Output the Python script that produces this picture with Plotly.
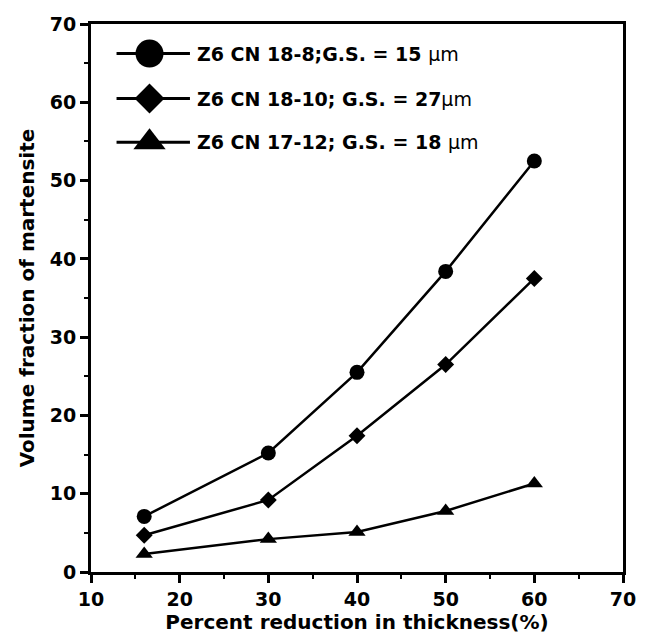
import plotly.graph_objects as go

reduction = [16, 30, 40, 50, 60]
vf_18_8 = [7.1, 15.2, 25.5, 38.4, 52.5]
vf_18_10 = [4.7, 9.2, 17.4, 26.5, 37.5]
vf_17_12 = [2.3, 4.2, 5.1, 7.8, 11.3]

series_names = [
    'Z6 CN 18-8;G.S. = 15 <span style="font-weight:normal">μm</span>',
    'Z6 CN 18-10; G.S. = 27<span style="font-weight:normal">μm</span>',
    'Z6 CN 17-12; G.S. = 18 <span style="font-weight:normal">μm</span>',
]
series_values = [vf_18_8, vf_18_10, vf_17_12]
symbols = ["circle", "diamond", "triangle-up"]
plot_sizes = [15, 13, 15]
legend_sizes = [28, 23, 28]

FONT = "DejaVu Sans, Liberation Sans, Arial, sans-serif"

fig = go.Figure()
for vals, sym, sz in zip(series_values, symbols, plot_sizes):
    fig.add_trace(go.Scatter(
        x=reduction, y=vals, mode="lines+markers",
        line=dict(color="black", width=2.5),
        marker=dict(symbol=sym, size=sz, color="black"),
        showlegend=False, cliponaxis=False,
    ))

# manual legend on an overlay axis (0..1 paper-like)
leg_y = [0.946, 0.864, 0.784]
for name, sym, sz, yy in zip(series_names, symbols, legend_sizes, leg_y):
    fig.add_trace(go.Scatter(
        x=[0.048, 0.093, 0.186], y=[yy, yy, yy], mode="lines",
        line=dict(color="black", width=3), xaxis="x2", yaxis="y2",
        showlegend=False, hoverinfo="skip",
    ))
    fig.add_trace(go.Scatter(
        x=[0.11], y=[yy], mode="markers",
        marker=dict(symbol=sym, size=sz, color="black"), xaxis="x2", yaxis="y2",
        showlegend=False, hoverinfo="skip",
    ))
    fig.add_annotation(
        x=0.195, y=yy, xref="x2", yref="y2", text=name, showarrow=False,
        xanchor="left", yanchor="middle",
        font=dict(family=FONT, size=19, color="black", weight="bold"),
    )

axis_common = dict(
    showline=True, linecolor="black", linewidth=3, mirror=True,
    ticks="outside", ticklen=8, tickwidth=2.5, tickcolor="black",
    showgrid=False, zeroline=False,
    tickfont=dict(family=FONT, size=19, color="black", weight="bold"),
)

fig.update_layout(
    width=651, height=638,
    margin=dict(l=91, r=28, t=24, b=64),
    paper_bgcolor="white", plot_bgcolor="white",
    xaxis=dict(
        range=[10, 70], dtick=10, tick0=10,
        minor=dict(dtick=5, ticks="outside", ticklen=4, tickwidth=2, tickcolor="black"),
        title=dict(text="Percent reduction in thickness(%)", standoff=2,
                   font=dict(family=FONT, size=20, color="black", weight="bold")),
        **axis_common,
    ),
    yaxis=dict(
        range=[0, 70], dtick=10, tick0=0,
        minor=dict(dtick=5, ticks="outside", ticklen=4, tickwidth=2, tickcolor="black"),
        title=dict(text="Volume fraction of martensite", standoff=10,
                   font=dict(family=FONT, size=20, color="black", weight="bold")),
        **axis_common,
    ),
    xaxis2=dict(range=[0, 1], overlaying="x", visible=False, fixedrange=True),
    yaxis2=dict(range=[0, 1], overlaying="y", visible=False, fixedrange=True),
)

fig.write_html("out.html")
